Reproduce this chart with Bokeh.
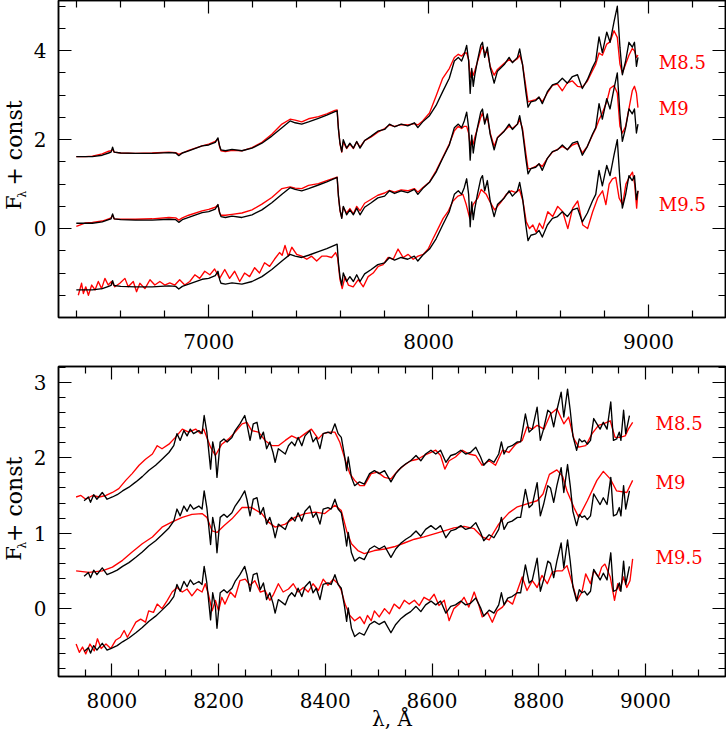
import math
from bokeh.plotting import figure
from bokeh.models import (Range1d, LinearAxis, FixedTicker, CustomJSTickFormatter,
                          ColumnDataSource)
from bokeh.layouts import column, row
from bokeh.embed import file_html
from bokeh.resources import INLINE
from bokeh.core.properties import value

FONT = "DejaVu Serif"

# ---------------- Top panel data (full range) ----------------
TOP_WAVE = [6398, 6440, 6471, 6516, 6545, 6556, 6563, 6570, 6600, 6667, 6743, 6819, 6850, 6864,
            6880, 6909, 6970, 7000, 7030, 7042, 7050, 7056, 7076, 7106, 7151, 7197, 7242, 7287,
            7333, 7370, 7393, 7423, 7454, 7499, 7537, 7574, 7584, 7590, 7597, 7605, 7612, 7627,
            7642, 7658, 7673, 7688, 7709, 7739, 7769, 7800, 7822, 7845, 7875, 7905, 7935, 7951,
            7973, 8004, 8034, 8064, 8094, 8117, 8135, 8150, 8162, 8173, 8182, 8189, 8196, 8203,
            8210, 8222, 8237, 8245, 8255, 8267, 8280, 8298, 8313, 8344, 8366, 8381, 8404, 8414,
            8427, 8442, 8452, 8465, 8487, 8502, 8517, 8540, 8563, 8586, 8608, 8631, 8654, 8677,
            8699, 8722, 8745, 8760, 8775, 8790, 8810, 8825, 8843, 8858, 8870, 8881, 8896, 8911,
            8926, 8936, 8945, 8952]
TOP_OBJECT = [1.62, 1.62, 1.62, 1.65, 1.70, 1.72, 1.83, 1.72, 1.70, 1.69, 1.69, 1.71, 1.70, 1.64,
              1.70, 1.75, 1.86, 1.88, 1.94, 2.04, 1.85, 1.77, 1.75, 1.78, 1.75, 1.81, 1.92, 2.08,
              2.27, 2.42, 2.38, 2.35, 2.40, 2.48, 2.55, 2.63, 2.65, 2.23, 1.92, 1.73, 2.00, 1.81,
              1.92, 1.81, 1.96, 1.81, 1.98, 2.08, 2.19, 2.23, 2.35, 2.29, 2.35, 2.31, 2.38, 2.27,
              2.40, 2.54, 2.77, 3.08, 3.38, 3.77, 3.85, 3.77, 3.92, 4.12, 3.77, 3.04, 3.60, 3.20,
              3.45, 3.77, 4.12, 4.19, 3.85, 4.08, 3.62, 3.27, 3.54, 3.69, 3.85, 3.73, 3.85, 4.04,
              3.69, 3.08, 2.73, 2.85, 2.88, 2.96, 2.81, 3.08, 3.23, 3.27, 3.38, 3.27, 3.42, 3.46,
              3.15, 3.35, 3.62, 3.77, 4.31, 3.96, 4.42, 4.19, 4.65, 5.00, 4.08, 3.46, 3.77, 4.19,
              4.08, 4.19, 3.65, 3.85]
TOP_M85 = [1.62, 1.62, 1.63, 1.68, 1.74, 1.75, 1.78, 1.72, 1.70, 1.69, 1.70, 1.72, 1.71, 1.67,
           1.70, 1.76, 1.86, 1.90, 1.96, 2.02, 1.83, 1.75, 1.73, 1.76, 1.75, 1.82, 1.94, 2.12,
           2.35, 2.46, 2.44, 2.40, 2.47, 2.52, 2.58, 2.66, 2.67, 2.25, 1.90, 1.72, 1.95, 1.80,
           1.90, 1.80, 1.95, 1.83, 1.98, 2.06, 2.17, 2.25, 2.33, 2.30, 2.34, 2.33, 2.36, 2.33,
           2.42, 2.60, 2.98, 3.38, 3.60, 3.85, 3.92, 3.88, 3.95, 3.95, 3.80, 3.40, 3.55, 3.45,
           3.55, 3.75, 4.00, 4.10, 3.95, 3.98, 3.65, 3.45, 3.58, 3.72, 3.80, 3.75, 3.82, 3.90,
           3.70, 3.20, 2.85, 2.87, 2.90, 2.95, 2.85, 3.05, 3.22, 3.25, 3.10, 3.28, 3.32, 3.20,
           3.18, 3.32, 3.55, 3.70, 3.95, 3.90, 4.15, 4.20, 4.45, 4.30, 3.70, 3.50, 3.70, 3.90,
           4.05, 4.00, 3.85, 3.90]
TOP_M9 = [0.05, 0.13, 0.14, 0.17, 0.22, 0.24, 0.30, 0.22, 0.21, 0.21, 0.22, 0.25, 0.24, 0.19,
          0.24, 0.30, 0.40, 0.43, 0.48, 0.53, 0.35, 0.30, 0.30, 0.32, 0.35, 0.42, 0.55, 0.70,
          0.90, 0.94, 0.91, 0.90, 0.97, 1.01, 1.08, 1.14, 1.16, 0.73, 0.40, 0.25, 0.48, 0.35,
          0.45, 0.33, 0.50, 0.40, 0.57, 0.66, 0.75, 0.80, 0.86, 0.82, 0.87, 0.85, 0.90, 0.82,
          0.92, 1.05, 1.30, 1.60, 1.90, 2.20, 2.30, 2.25, 2.30, 2.30, 2.15, 1.85, 2.00, 1.90,
          2.05, 2.25, 2.50, 2.60, 2.40, 2.50, 2.15, 1.85, 2.05, 2.20, 2.30, 2.25, 2.35, 2.45,
          2.25, 1.70, 1.35, 1.35, 1.40, 1.45, 1.40, 1.58, 1.72, 1.78, 1.85, 1.78, 1.88, 1.92,
          1.70, 1.85, 2.10, 2.25, 2.45, 2.60, 2.85, 3.15, 3.22, 3.05, 2.30, 2.15, 2.30, 2.70,
          3.10, 3.20, 3.05, 2.72]
TOP_M95_WAVE = [6407, 6422, 6430, 6441, 6453, 6468, 6483, 6498, 6513, 6528, 6543, 6558, 6573,
                6596, 6619, 6634, 6657, 6672, 6687, 6710, 6733, 6755, 6778, 6800, 6823, 6846,
                6868, 6891, 6914, 6937, 6959, 6982, 7005, 7027, 7050, 7073, 7095, 7118, 7141,
                7163, 7186, 7209, 7231, 7254, 7277, 7299, 7322, 7334, 7347, 7362, 7378, 7400,
                7423, 7446, 7468, 7491, 7514, 7536, 7559, 7577, 7586, 7597, 7607, 7620, 7635,
                7657, 7680, 7703, 7725, 7748, 7771, 7793, 7816, 7839, 7861, 7884, 7907, 7930,
                7952, 7975, 7998, 8020, 8043, 8066, 8088, 8111, 8133, 8156, 8171, 8187, 8202,
                8224, 8239, 8262, 8277, 8300, 8330, 8353, 8376, 8398, 8413, 8429, 8444, 8459,
                8474, 8489, 8504, 8519, 8542, 8564, 8587, 8610, 8633, 8655, 8678, 8701, 8723,
                8746, 8769, 8791, 8806, 8821, 8836, 8851, 8866, 8882, 8897, 8912, 8927, 8937,
                8946, 8952]
TOP_M95 = [-1.50, -1.23, -1.46, -1.31, -1.50, -1.27, -1.38, -1.19, -1.35, -1.12, -1.27, -1.19,
           -1.31, -1.23, -1.12, -1.31, -1.19, -1.42, -1.23, -1.35, -1.15, -1.27, -1.19, -1.27,
           -1.22, -1.27, -1.15, -1.27, -1.19, -1.04, -1.12, -0.96, -1.04, -0.91, -1.12, -0.92,
           -1.12, -0.96, -1.19, -1.00, -1.08, -0.88, -1.00, -0.77, -0.85, -0.69, -0.54, -0.60,
           -0.38, -0.62, -0.42, -0.58, -0.62, -0.69, -0.62, -0.73, -0.62, -0.62, -0.65, -0.54,
           -0.65, -1.15, -1.35, -1.08, -1.27, -1.31, -1.15, -1.31, -1.08, -1.00, -0.85, -0.81,
           -0.65, -0.69, -0.46, -0.65, -0.58, -0.69, -0.62, -0.58, -0.46, -0.23, 0.00, 0.23,
           0.38, 0.62, 0.73, 0.77, 0.54, 0.23, 0.54, 0.69, 0.88, 0.77, 0.62, 0.42, 0.60, 0.77,
           0.85, 0.81, 0.88, 0.62, 0.15, 0.00, 0.08, -0.08, 0.12, 0.00, 0.38, 0.27, 0.50, 0.38,
           0.00, 0.46, 0.62, 0.08, 0.00, 0.38, 0.69, 0.85, 0.54, 1.00, 1.12, 1.15, 0.69, 0.54,
           1.00, 1.15, 1.27, 1.00, 0.46, 0.85]
TOP_OBJECT_OFFSETS = [0.0, -1.5, -3.0]
TOP_LABEL_Y = [3.74, 2.70, 0.55]

# ---------------- Bottom panel data (zoom) ----------------
BOT_WAVE = [7948, 7956, 7960, 7966, 7972, 7982, 7991, 8001, 8010, 8020, 8032, 8045, 8057, 8069,
            8082, 8094, 8107, 8116, 8122, 8128, 8135, 8141, 8147, 8153, 8163, 8169, 8173, 8178,
            8185, 8189, 8194, 8197, 8203, 8210, 8216, 8225, 8231, 8240, 8249, 8253, 8259, 8265,
            8272, 8278, 8284, 8290, 8296, 8302, 8306, 8312, 8325, 8331, 8337, 8343, 8349, 8356,
            8362, 8371, 8377, 8383, 8390, 8396, 8405, 8411, 8418, 8424, 8430, 8436, 8440, 8443,
            8449, 8455, 8464, 8473, 8483, 8492, 8501, 8511, 8523, 8532, 8542, 8551, 8560, 8570,
            8579, 8588, 8598, 8607, 8616, 8626, 8635, 8644, 8654, 8663, 8672, 8682, 8691, 8697,
            8707, 8716, 8725, 8730, 8735, 8742, 8750, 8760, 8766, 8775, 8782, 8788, 8797, 8803,
            8809, 8817, 8822, 8828, 8834, 8842, 8847, 8854, 8859, 8864, 8871, 8876, 8881, 8886,
            8891, 8897, 8903, 8909, 8915, 8921, 8928, 8935, 8940, 8946, 8951, 8954, 8959, 8963,
            8970]
BOT_OBJECT = [1.43, 1.48, 1.41, 1.51, 1.45, 1.54, 1.45, 1.48, 1.51, 1.56, 1.61, 1.68, 1.75, 1.83,
              1.90, 1.98, 2.07, 2.16, 2.32, 2.23, 2.36, 2.29, 2.38, 2.32, 2.36, 2.32, 2.56, 2.34,
              1.85, 2.21, 2.03, 1.74, 2.21, 2.25, 2.21, 2.27, 2.36, 2.45, 2.56, 2.45, 2.23, 2.45,
              2.47, 2.25, 2.34, 2.12, 2.21, 2.07, 1.94, 2.12, 2.05, 2.16, 2.21, 2.16, 2.27, 2.16,
              2.29, 2.36, 2.21, 2.27, 2.12, 2.32, 2.34, 2.32, 2.45, 2.32, 2.27, 2.03, 1.83, 2.01,
              1.74, 1.63, 1.68, 1.65, 1.79, 1.83, 1.79, 1.83, 1.68, 1.79, 1.87, 1.92, 1.96, 2.03,
              1.96, 2.05, 2.10, 2.05, 2.10, 1.94, 2.03, 2.05, 2.10, 2.05, 2.07, 2.14, 2.01, 1.90,
              1.98, 1.94, 2.05, 2.21, 2.05, 2.14, 2.16, 2.21, 2.21, 2.58, 2.34, 2.38, 2.67, 2.23,
              2.38, 2.63, 2.60, 2.41, 2.63, 2.87, 2.54, 2.91, 2.63, 2.29, 2.10, 2.25, 2.21, 2.23,
              2.18, 2.23, 2.52, 2.45, 2.38, 2.47, 2.38, 2.74, 2.23, 2.25, 2.34, 2.23, 2.63, 2.32,
              2.56]
BOT_M85_WAVE = [7933, 7942, 7951, 7964, 7976, 7989, 8001, 8013, 8026, 8038, 8051, 8063, 8076,
                8085, 8094, 8107, 8119, 8132, 8144, 8157, 8166, 8172, 8178, 8185, 8194, 8206,
                8219, 8231, 8244, 8253, 8262, 8275, 8287, 8300, 8312, 8325, 8337, 8349, 8362,
                8374, 8387, 8396, 8409, 8418, 8427, 8437, 8446, 8455, 8465, 8473, 8486, 8498,
                8511, 8523, 8536, 8548, 8560, 8573, 8585, 8598, 8607, 8616, 8624, 8632, 8644,
                8657, 8669, 8682, 8694, 8707, 8719, 8732, 8744, 8757, 8769, 8778, 8788, 8797,
                8810, 8822, 8834, 8847, 8856, 8866, 8875, 8888, 8900, 8912, 8921, 8934, 8943,
                8952, 8962, 8968, 8976]
BOT_M85 = [1.48, 1.50, 1.45, 1.50, 1.48, 1.50, 1.54, 1.59, 1.70, 1.79, 1.90, 1.98, 2.05, 2.16,
           2.12, 2.18, 2.27, 2.38, 2.34, 2.38, 2.32, 2.38, 2.27, 2.14, 2.03, 2.18, 2.25, 2.34,
           2.45, 2.47, 2.36, 2.34, 2.23, 2.16, 2.16, 2.23, 2.29, 2.25, 2.32, 2.38, 2.25, 2.32,
           2.34, 2.34, 2.21, 1.98, 1.79, 1.70, 1.63, 1.63, 1.79, 1.81, 1.74, 1.72, 1.83, 1.90,
           1.96, 1.98, 2.03, 2.07, 2.10, 2.03, 1.85, 1.96, 2.01, 2.10, 2.05, 2.03, 1.90, 1.96,
           1.90, 2.10, 2.07, 2.18, 2.23, 2.41, 2.38, 2.43, 2.38, 2.58, 2.65, 2.45, 2.54, 2.25,
           2.14, 2.16, 2.32, 2.43, 2.45, 2.49, 2.27, 2.27, 2.29, 2.38, 2.47]
BOT_M9_WAVE = [7933, 7957, 7982, 8001, 8020, 8038, 8057, 8076, 8094, 8113, 8132, 8150, 8169,
               8178, 8188, 8197, 8210, 8225, 8244, 8262, 8281, 8293, 8306, 8325, 8343, 8362,
               8381, 8399, 8418, 8430, 8440, 8449, 8461, 8473, 8492, 8511, 8529, 8548, 8567,
               8585, 8604, 8623, 8641, 8660, 8679, 8694, 8707, 8725, 8744, 8760, 8778, 8797,
               8808, 8820, 8834, 8845, 8853, 8866, 8875, 8891, 8909, 8921, 8934, 8946, 8965,
               8976]
BOT_M9 = [0.50, 0.48, 0.50, 0.55, 0.64, 0.75, 0.86, 0.95, 1.08, 1.15, 1.21, 1.25, 1.26, 1.21,
          1.03, 1.01, 1.10, 1.19, 1.34, 1.34, 1.26, 1.15, 1.08, 1.12, 1.21, 1.26, 1.28, 1.26,
          1.37, 1.30, 1.03, 0.86, 0.77, 0.73, 0.77, 0.79, 0.82, 0.87, 0.92, 0.95, 0.99, 1.03,
          1.07, 1.09, 1.06, 0.95, 0.91, 1.12, 1.27, 1.35, 1.39, 1.43, 1.52, 1.78, 1.84, 1.75,
          1.56, 1.34, 1.21, 1.43, 1.70, 1.82, 1.72, 1.56, 1.54, 1.70]
BOT_M95_WAVE = [7933, 7939, 7945, 7951, 7959, 7967, 7973, 7980, 7989, 7998, 8007, 8016, 8023,
                8029, 8038, 8045, 8054, 8063, 8069, 8078, 8085, 8094, 8104, 8113, 8122, 8132,
                8141, 8150, 8160, 8169, 8175, 8181, 8188, 8194, 8200, 8206, 8212, 8222, 8231,
                8240, 8250, 8259, 8268, 8278, 8287, 8296, 8303, 8312, 8321, 8331, 8340, 8349,
                8359, 8368, 8377, 8387, 8396, 8405, 8415, 8424, 8430, 8437, 8446, 8455, 8465,
                8473, 8479, 8486, 8492, 8501, 8511, 8520, 8529, 8539, 8548, 8557, 8567, 8576,
                8585, 8595, 8604, 8613, 8623, 8632, 8641, 8651, 8660, 8669, 8679, 8688, 8694,
                8704, 8713, 8722, 8732, 8741, 8751, 8760, 8769, 8778, 8788, 8797, 8806, 8816,
                8825, 8834, 8844, 8853, 8863, 8872, 8881, 8888, 8897, 8903, 8912, 8918, 8924,
                8934, 8942, 8948, 8952, 8959, 8965, 8971, 8976]
BOT_M95 = [-0.47, -0.58, -0.51, -0.60, -0.47, -0.56, -0.40, -0.53, -0.47, -0.53, -0.42, -0.38,
           -0.29, -0.38, -0.27, -0.18, -0.14, -0.18, -0.03, -0.05, 0.06, 0.00, 0.11, 0.22, 0.28,
           0.22, 0.26, 0.17, 0.26, 0.22, 0.33, 0.19, -0.03, 0.11, -0.03, 0.15, 0.06, 0.22, 0.15,
           0.37, 0.39, 0.31, 0.37, 0.22, 0.24, 0.11, 0.19, 0.33, 0.22, 0.26, 0.33, 0.22, 0.28,
           0.22, 0.33, 0.24, 0.39, 0.31, 0.39, 0.33, 0.24, 0.06, -0.09, -0.16, -0.11, -0.20,
           -0.09, -0.16, -0.03, -0.11, 0.00, -0.07, 0.06, 0.00, 0.11, 0.06, 0.11, 0.04, 0.15,
           0.11, 0.19, 0.04, 0.11, -0.16, 0.00, 0.06, 0.15, 0.02, 0.22, 0.04, -0.11, -0.05,
           -0.18, -0.03, 0.02, 0.11, 0.06, 0.24, 0.42, 0.24, 0.37, 0.28, 0.44, 0.33, 0.48, 0.50,
           0.50, 0.57, 0.33, 0.11, 0.22, 0.46, 0.33, 0.50, 0.42, 0.55, 0.59, 0.42, 0.11, 0.33,
           0.24, 0.42, 0.28, 0.37, 0.66]
BOT_OBJECT_OFFSETS = [0.0, -1.0, -2.0]
BOT_LABEL_Y = [2.45, 1.675, 0.676]

SPECTRAL_TYPES = ["M8.5", "M9", "M9.5"]
Y_LABEL_PARTS = ["F", "λ", "+ const"]
X_LABEL = "λ, Å"

# ticks
TOP_X_TICKS = [7000, 8000, 9000]
TOP_X_MINOR = [6400, 6600, 6800, 7200, 7400, 7600, 7800, 8200, 8400, 8600, 8800, 9200]
TOP_Y_TICKS = [0, 2, 4]
TOP_Y_MINOR = [-1.5, -1.0, -0.5, 0.5, 1.0, 1.5, 2.5, 3.0, 3.5, 4.5, 5.0]
BOT_X_TICKS = [8000, 8200, 8400, 8600, 8800, 9000]
BOT_X_MINOR = [7950, 8050, 8100, 8150, 8250, 8300, 8350, 8450, 8500, 8550, 8650, 8700, 8750,
               8850, 8900, 8950, 9050, 9100]
BOT_Y_TICKS = [0, 1, 2, 3]
BOT_Y_MINOR = [-0.8, -0.6, -0.4, -0.2, 0.2, 0.4, 0.6, 0.8, 1.2, 1.4, 1.6, 1.8, 2.2, 2.4,
               2.6, 2.8, 3.2]

RED = "#ff0000"
BLACK = "#000000"
PAGE_W = 726
LABEL_COL_W = 30
MAIN_W = PAGE_W - LABEL_COL_W
TOP_H = 356
BOT_H = 378


def style_axis(ax, labels=True, standoff=12):
    ax.axis_line_color = BLACK
    ax.axis_line_width = 1.5
    ax.major_tick_in = 13
    ax.major_tick_out = 0
    ax.minor_tick_in = 7
    ax.minor_tick_out = 0
    ax.major_tick_line_color = BLACK
    ax.minor_tick_line_color = BLACK
    ax.major_tick_line_width = 1.2
    ax.minor_tick_line_width = 1.2
    if labels:
        ax.major_label_text_font = FONT
        ax.major_label_text_font_style = "normal"
        ax.major_label_text_font_size = "20px"
        ax.major_label_text_color = BLACK
        ax.major_label_standoff = standoff
    else:
        ax.formatter = CustomJSTickFormatter(code="return ''")
        ax.major_label_text_font_size = "0px"
        ax.major_label_standoff = 0


def make_panel(xr, yr, height, btop, bbot, xt, xm, yt, ym, xstand):
    p = figure(width=MAIN_W, height=height, x_range=Range1d(*xr), y_range=Range1d(*yr),
               output_backend="svg", toolbar_location=None,
               x_axis_location=None, y_axis_location=None,
               min_border_left=56 - LABEL_COL_W, min_border_right=1, min_border_top=btop,
               min_border_bottom=bbot)
    p.grid.visible = False
    p.outline_line_color = BLACK
    p.outline_line_width = 1.5
    p.background_fill_color = "white"
    p.border_fill_color = "white"
    xtick = FixedTicker(ticks=xt, minor_ticks=xm)
    ytick = FixedTicker(ticks=yt, minor_ticks=ym)
    below = LinearAxis(ticker=xtick)
    style_axis(below, True, xstand)
    above = LinearAxis(ticker=xtick)
    style_axis(above, False)
    left = LinearAxis(ticker=ytick)
    style_axis(left, True, 12)
    right = LinearAxis(ticker=ytick)
    style_axis(right, False)
    p.add_layout(below, "below")
    p.add_layout(above, "above")
    p.add_layout(left, "left")
    p.add_layout(right, "right")
    return p, below


def draw(p, obj_w, obj_f, offsets, reds, label_x, label_y):
    for (rw, rf), off in zip(reds, offsets):
        p.line(rw, rf, line_color=RED, line_width=1.35, line_join="round")
        p.line(obj_w, [v + off for v in obj_f], line_color=BLACK, line_width=1.35,
               line_join="round")
    src = ColumnDataSource(dict(x=[label_x] * len(SPECTRAL_TYPES), y=label_y,
                                t=SPECTRAL_TYPES))
    p.text(x="x", y="y", text="t", source=src, text_color=RED,
           text_font=value(FONT), text_font_size="18px",
           text_align="left", text_baseline="middle")


def ylabel_fig(height, y_f, y_sub, y_rest):
    # a narrow blank canvas in pixel units holding the rotated title "F_lambda + const"
    f = figure(width=LABEL_COL_W, height=height, x_range=Range1d(0, LABEL_COL_W),
               y_range=Range1d(0, height), output_backend="svg", toolbar_location=None,
               x_axis_location=None, y_axis_location=None,
               min_border_left=0, min_border_right=0, min_border_top=0, min_border_bottom=0)
    f.grid.visible = False
    f.outline_line_color = None
    f.background_fill_color = "white"
    f.border_fill_color = "white"
    src = ColumnDataSource(dict(x=[13.5, 21.5, 13.5], y=[y_f, y_sub, y_rest], t=Y_LABEL_PARTS,
                                s=["21px", "11px", "22px"]))
    f.text(x="x", y="y", text="t", source=src, text_font_size="s", angle=math.pi / 2,
           text_font=value(FONT), text_color=BLACK, text_align="center",
           text_baseline="middle")
    return f


top, _ = make_panel((6317, 9350), (-2.0, 5.13), TOP_H, 0, 39,
                    TOP_X_TICKS, TOP_X_MINOR, TOP_Y_TICKS, TOP_Y_MINOR, 16)
draw(top, TOP_WAVE, TOP_OBJECT, TOP_OBJECT_OFFSETS,
     [(TOP_WAVE, TOP_M85), (TOP_WAVE, TOP_M9), (TOP_M95_WAVE, TOP_M95)],
     9047, TOP_LABEL_Y)

bot, bot_below = make_panel((7900, 9150), (-0.9, 3.21), BOT_H, 10, 58,
                            BOT_X_TICKS, BOT_X_MINOR, BOT_Y_TICKS, BOT_Y_MINOR, 16)
bot_below.axis_label = X_LABEL
bot_below.axis_label_text_font = FONT
bot_below.axis_label_text_font_size = "20px"
bot_below.axis_label_text_font_style = "normal"
bot_below.axis_label_text_color = BLACK
bot_below.axis_label_standoff = -4
draw(bot, BOT_WAVE, BOT_OBJECT, BOT_OBJECT_OFFSETS,
     [(BOT_M85_WAVE, BOT_M85), (BOT_M9_WAVE, BOT_M9), (BOT_M95_WAVE, BOT_M95)],
     9019, BOT_LABEL_Y)

top_lab = ylabel_fig(TOP_H, 129, 138.3, 196)
bot_lab = ylabel_fig(BOT_H, 150, 160, 216)

layout = column(row(top_lab, top, spacing=0), row(bot_lab, bot, spacing=0), spacing=0)
open("out.html", "w").write(file_html(layout, INLINE))
